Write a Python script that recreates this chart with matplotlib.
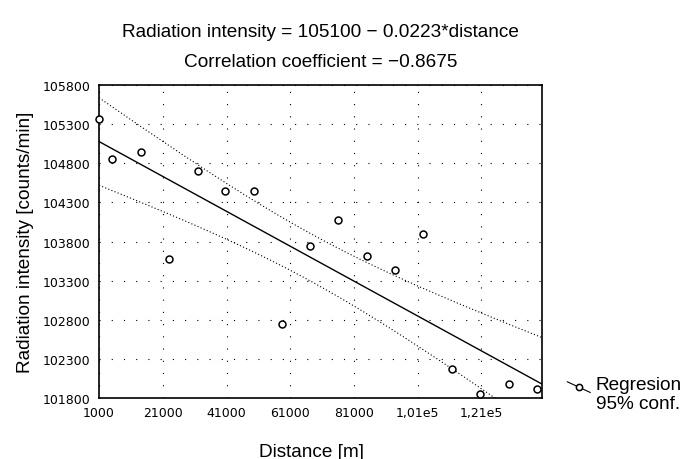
import numpy as np
import matplotlib.pyplot as plt
from matplotlib.lines import Line2D
from matplotlib.legend_handler import HandlerLine2D

plt.rcParams['font.family'] = ['Liberation Sans', 'DejaVu Sans']

# measured points (distance [m], counts/min)
distance = [1000, 5200, 14200, 23000, 31900, 40600, 49600, 58400, 67300,
            76100, 85000, 93900, 102800, 111700, 120600, 129500, 138400]
intensity = [105360, 104860, 104950, 103580, 104700, 104450, 104450, 102750, 103740,
             104070, 103610, 103430, 103900, 102170, 101850, 101980, 101920]

intercept = 105100
slope = -0.0223
x_ticks = [1000, 21000, 41000, 61000, 81000, 101000, 121000]
x_tick_labels = ['1000', '21000', '41000', '61000', '81000', '1,01e5', '1,21e5']
y_ticks = [101800, 102300, 102800, 103300, 103800, 104300, 104800, 105300, 105800]

x = np.array(distance, dtype=float)
y = np.array(intensity, dtype=float)
n = len(x)

# 95% confidence band for the regression line
xs = np.linspace(1000, 140000, 200)
fit = intercept + slope * xs
resid = y - (intercept + slope * x)
s = np.sqrt(np.sum(resid ** 2) / (n - 2))
sxx = np.sum((x - x.mean()) ** 2)
half = 2.131 * s * np.sqrt(1 / n + (xs - x.mean()) ** 2 / sxx)


class SlopedHandler(HandlerLine2D):
    def create_artists(self, legend, orig_handle, xdescent, ydescent,
                       width, height, fontsize, trans):
        x0, x1 = -xdescent, -xdescent + width
        y0, y1 = height * 1.4, height * 0.6
        ln = Line2D([x0, x1], [y0, y1], color='k', lw=0.8, transform=trans)
        mk = Line2D([(x0 + x1) / 2], [(y0 + y1) / 2], marker='o', ms=4.5,
                    mfc='white', mec='k', mew=1.1, ls='none', transform=trans)
        return [ln, mk]


fig = plt.figure(figsize=(6.83, 4.6), dpi=100)
ax = fig.add_axes([0.145, 0.1326, 0.6486, 0.6804])

ax.plot(xs, fit, color='k', lw=1.0)
ax.plot(xs, fit + half, color='k', lw=0.8, ls=(0, (1, 2)))
ax.plot(xs, fit - half, color='k', lw=0.8, ls=(0, (1, 2)))
ax.plot(x, y, ls='none', marker='o', ms=5, mfc='white', mec='k', mew=1.1,
        clip_on=False, zorder=5)

ax.set_xlim(1000, 140000)
ax.set_ylim(101800, 105800)
ax.set_xticks(x_ticks)
ax.set_xticklabels(x_tick_labels)
ax.set_yticks(y_ticks)
ax.tick_params(length=0, pad=6, labelsize=9)
for lab in ax.get_xticklabels() + ax.get_yticklabels():
    lab.set_family('DejaVu Sans')
ax.grid(True, color='k', lw=0.8, ls=(0, (1, 10)))
for sp in ax.spines.values():
    sp.set_linewidth(1.2)

ax.set_title('Radiation intensity = 105100 \u2212 0.0223*distance\n'
             'Correlation coefficient = \u22120.8675',
             fontsize=13.7, linespacing=2.0, pad=14)
ax.set_xlabel('Distance [m]', fontsize=13.7, labelpad=17)
ax.xaxis.label.set_x(0.48)
ax.set_ylabel('Radiation intensity [counts/min]', fontsize=13.7, labelpad=6)

h = Line2D([], [], color='k')
ax.legend([h], ['Regresion\n95% conf.'], handler_map={Line2D: SlopedHandler()},
          loc='center left', bbox_to_anchor=(1.04, 0.013), frameon=False,
          fontsize=13.7, handlelength=1.2, handletextpad=0.3, borderaxespad=0)

fig.savefig('out.png', dpi=100)
